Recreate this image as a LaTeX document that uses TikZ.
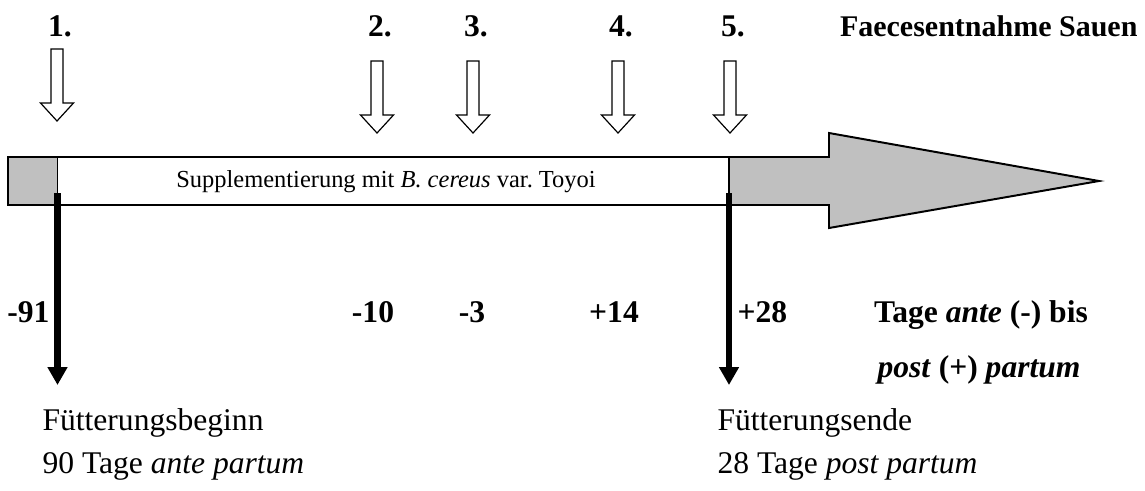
\documentclass[tikz,border=0pt]{standalone}
\usepackage{fontspec}
\setmainfont{Liberation Serif}
\usetikzlibrary{arrows.meta}
\definecolor{shaftgray}{RGB}{192,192,192}

\begin{document}
\begin{tikzpicture}[x=0.38pt, y=-0.38pt,
    font=\fontsize{12}{14}\selectfont,
    txt/.style={inner sep=0pt},
    num/.style={inner sep=0pt, font=\fontsize{12}{14}\selectfont\bfseries},
    pfeil/.style={line width=0.45pt, fill=white},
    feed/.style={line width=2.3pt, -{Triangle[width=7.2pt, length=6.8pt]}}]

    \useasboundingbox (0,0) rectangle (1145,490);

    % zeitachse
    \fill[shaftgray] (8,157) rectangle (57.5,205);
    \fill[shaftgray] (729,157) -- (829,157) -- (829,133) -- (1099,181) -- (829,228) -- (829,205) -- (729,205) -- cycle;
    \draw[line width=0.75pt] (8,157) -- (829,157) -- (829,133) -- (1099,181) -- (829,228) -- (829,205) -- (8,205) -- cycle;
    \node[txt, font=\fontsize{9.3}{11}\selectfont, anchor=base] (supp) at (386,187) {Supplementierung mit \textit{B.\ cereus} var.\ Toyoi};

    % probenahmen
    \foreach \x/\n/\t in {57/1/49, 377/2/61, 473/3/61, 618/4/61, 730/5/61} {
        \node[num, anchor=base] (probe\n) at (\x+3,36) {\n.};
        \draw[pfeil] (\x-6,\t) -- (\x+6,\t) -- (\x+6,\t+54) -- (\x+16.5,\t+54) -- (\x,\t+72) -- (\x-16.5,\t+54) -- (\x-6,\t+54) -- cycle;
    }
    \node[num, font=\fontsize{11.4}{14}\selectfont\bfseries, anchor=base east] (faeces) at (1138,36) {Faecesentnahme Sauen};

    % beginn und ende der fuetterung
    \coordinate (begtop) at (57.5,157);
    \coordinate (begmid) at (57.5,193);
    \coordinate (begend) at (57.5,385);
    \coordinate (endtop) at (729,157);
    \coordinate (endmid) at (729,193);
    \coordinate (endend) at (729,385);
    \draw[line width=0.5pt] (begtop) -- (begmid);
    \draw[line width=0.5pt] (endtop) -- (endmid);
    \draw[feed] (begmid) -- (begend);
    \draw[feed] (endmid) -- (endend);

    \node[num, anchor=base east] (d91) at (50,322) {-91};
    \node[num, anchor=base] (d10) at (373,322) {-10};
    \node[num, anchor=base] (d3) at (472,322) {-3};
    \node[num, anchor=base] (d14) at (614,322) {+14};
    \node[num, anchor=base west] (d28) at (737,322) {+28};
    \node[num, anchor=base] (tage1) at (981,322) {Tage \textit{ante} (-) bis};
    \node[num, anchor=base] (tage2) at (979,377) {\textit{post} (+) \textit{partum}};

    \node[txt, anchor=base west] (beg1) at (42,430) {Fütterungsbeginn};
    \node[txt, anchor=base west] (beg2) at (42,473) {90 Tage \textit{ante partum}};
    \node[txt, anchor=base west] (end1) at (717,430) {Fütterungsende};
    \node[txt, anchor=base west] (end2) at (717,473) {28 Tage \textit{post partum}};

\end{tikzpicture}
\end{document}
